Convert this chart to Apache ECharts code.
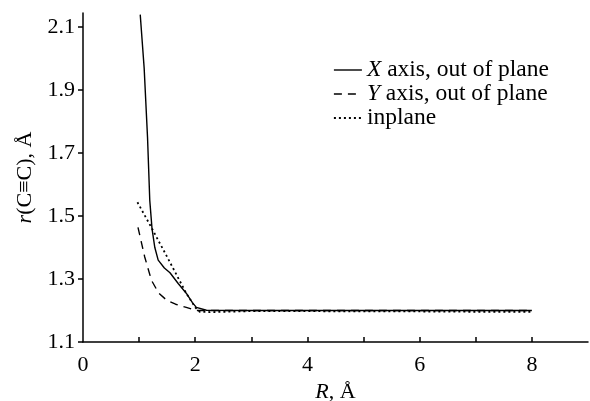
<!DOCTYPE html>
<html>
<head>
<meta charset="utf-8">
<script src="https://cdn.jsdelivr.net/npm/echarts@6/dist/echarts.min.js"></script>
<style>
  html, body { margin: 0; padding: 0; background: #fff; }
  #main { width: 590px; height: 401px; }
</style>
</head>
<body>
<div id="main"></div>
<script>
// values
const xOut = [[1.02, 2.14], [1.09, 1.97], [1.15, 1.75], [1.19, 1.55], [1.23, 1.46], [1.28, 1.40],
  [1.34, 1.36], [1.45, 1.335], [1.55, 1.32], [1.7, 1.285], [1.84, 1.255], [1.95, 1.225],
  [2.02, 1.21], [2.2, 1.201], [3, 1.2], [4, 1.2], [5, 1.2], [6, 1.2], [7, 1.2], [8, 1.2]];
const yOut = [[0.98, 1.464], [1.1, 1.37], [1.22, 1.296], [1.35, 1.255], [1.49, 1.233],
  [1.65, 1.22], [1.84, 1.21], [2.02, 1.2], [3, 1.2], [4, 1.2], [5, 1.2], [6, 1.2], [7, 1.2], [8, 1.2]];
const inPlane = [[0.97, 1.544], [1.2, 1.47], [1.5, 1.37], [1.84, 1.255], [2.0, 1.21], [2.08, 1.196],
  [2.31, 1.195], [3, 1.198], [4, 1.198], [5, 1.197], [6, 1.197], [7, 1.196], [8, 1.196]];
const xLabels = [0, 2, 4, 6, 8];
const xTicks = [1, 2, 3, 4, 5, 6, 7, 8];
const yLabels = [1.1, 1.3, 1.5, 1.7, 1.9, 2.1];

const font = 'Liberation Serif';
const dash = [8, 6];
const dots = [2, 3];
const chart = echarts.init(document.getElementById('main'));

function mkLine(name, data, type, w) {
  return {
    name: name,
    type: 'line',
    data: data,
    symbol: 'none',
    lineStyle: { color: '#000', width: w, type: type },
    itemStyle: { color: '#000' }
  };
}

const italic = { fontFamily: font, fontSize: 22, fontStyle: 'italic', color: '#000' };
const italicL = { fontFamily: font, fontSize: 23.5, fontStyle: 'italic', color: '#000' };

chart.setOption({
  animation: false,
  grid: { left: 83, top: 13, right: 2, bottom: 59, outerBoundsMode: 'none', containLabel: false },
  legend: {
    orient: 'vertical',
    left: 328,
    top: 53,
    itemGap: 0,
    itemWidth: 28,
    itemHeight: 22.5,
    itemStyle: { opacity: 0 },
    data: [
      { name: 'X', lineStyle: { color: '#000', width: 1.4, type: 'solid' } },
      { name: 'Y', lineStyle: { color: '#000', width: 1.4, type: dash } },
      { name: 'inplane', lineStyle: { color: '#000', width: 1.8, type: dots } }
    ],
    formatter: function (n) {
      if (n === 'X') return '{i|X} axis, out of plane';
      if (n === 'Y') return '{i|Y} axis, out of plane';
      return 'inplane';
    },
    textStyle: {
      fontFamily: font, fontSize: 23.5, color: '#000',
      rich: { i: italicL }
    }
  },
  xAxis: {
    type: 'value', min: 0, max: 9,
    name: '{i|R}, Å', nameLocation: 'middle', nameGap: 39,
    nameTextStyle: { fontFamily: font, fontSize: 22, color: '#000', rich: { i: italic } },
    splitLine: { show: false },
    axisLine: { lineStyle: { color: '#000', width: 1.5 } },
    axisTick: { inside: true, length: 5, customValues: xTicks, lineStyle: { color: '#000', width: 1.5 } },
    axisLabel: { customValues: xLabels, fontFamily: font, fontSize: 22, color: '#000', margin: 12 }
  },
  yAxis: {
    type: 'value', min: 1.1, max: 2.145,
    name: '{i|r}(C≡C), Å', nameLocation: 'middle', nameGap: 42,
    nameTextStyle: { fontFamily: font, fontSize: 22, color: '#000', rich: { i: italic } },
    splitLine: { show: false },
    axisLine: { show: true, lineStyle: { color: '#000', width: 1.5 } },
    axisTick: { show: true, length: 5, customValues: yLabels, lineStyle: { color: '#000', width: 1.5 } },
    axisLabel: {
      customValues: yLabels, fontFamily: font, fontSize: 22, color: '#000', margin: 8,
      formatter: function (v) { return v.toFixed(1); }
    }
  },
  series: [
    mkLine('X', xOut, 'solid', 1.4),
    mkLine('Y', yOut, dash, 1.4),
    mkLine('inplane', inPlane, dots, 1.8)
  ]
});
</script>
</body>
</html>
